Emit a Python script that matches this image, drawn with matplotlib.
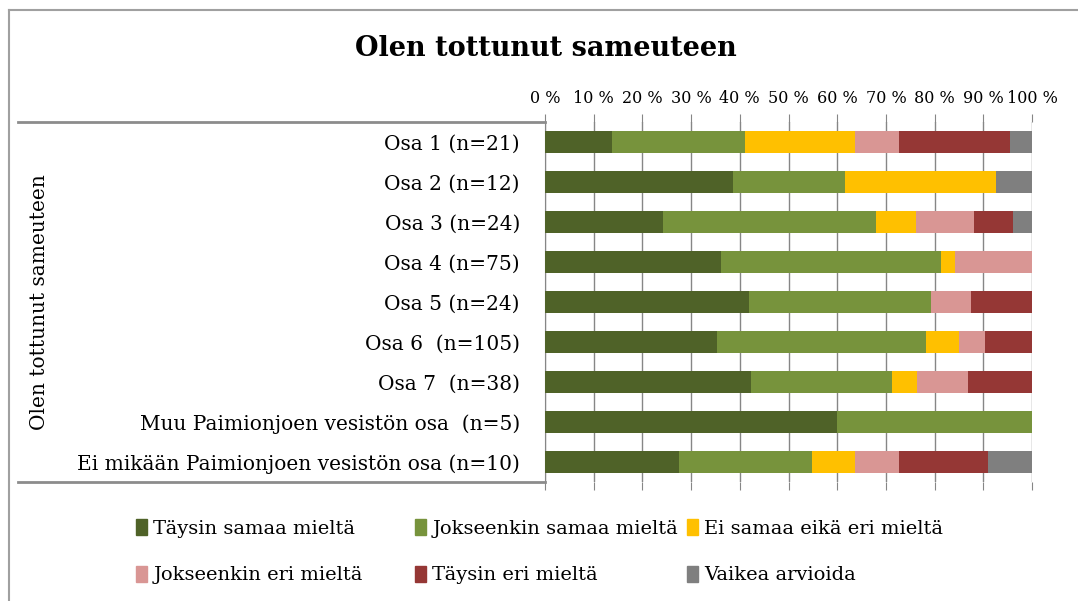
import matplotlib.pyplot as plt
from matplotlib.lines import Line2D
from matplotlib.patches import Patch

# Luokat (ylhäältä alas)
osat = ["Osa 1 (n=21)", "Osa 2 (n=12)", "Osa 3 (n=24)", "Osa 4 (n=75)",
        "Osa 5 (n=24)", "Osa 6  (n=105)", "Osa 7  (n=38)",
        "Muu Paimionjoen vesistön osa  (n=5)",
        "Ei mikään Paimionjoen vesistön osa (n=10)"]

vastaukset = ["Täysin samaa mieltä", "Jokseenkin samaa mieltä",
              "Ei samaa eikä eri mieltä", "Jokseenkin eri mieltä",
              "Täysin eri mieltä", "Vaikea arvioida"]

# Prosenttiosuudet (luettu kuvasta)
taysin_samaa = [13.7, 38.6, 24.2, 36.1, 41.9, 35.3, 42.2, 60.0, 27.5]
jokseenkin_samaa = [27.3, 23.0, 43.7, 45.3, 37.4, 42.9, 29.0, 40.0, 27.3]
ei_samaa_eika_eri = [22.7, 31.0, 8.3, 2.8, 0.0, 6.9, 5.2, 0.0, 8.9]
jokseenkin_eri = [9.0, 0.0, 11.8, 15.8, 8.2, 5.3, 10.4, 0.0, 9.0]
taysin_eri = [22.8, 0.0, 8.1, 0.0, 12.5, 9.6, 13.2, 0.0, 18.3]
vaikea = [4.5, 7.4, 3.9, 0.0, 0.0, 0.0, 0.0, 0.0, 9.0]

varit = ["#4F6228", "#77933C", "#FFC000", "#D99694", "#953735", "#7F7F7F"]

sarjat = [taysin_samaa, jokseenkin_samaa, ei_samaa_eika_eri,
          jokseenkin_eri, taysin_eri, vaikea]

plt.rcParams['font.family'] = ['DejaVu Serif']

fig = plt.figure(figsize=(10.78, 6.01), dpi=100)
ax = fig.add_axes([545 / 1078, 1 - 482 / 601, 487 / 1078, 360 / 601])

y = list(range(len(osat)))
vasen = [0.0] * len(osat)
for arvot, vari, nimi in zip(sarjat, varit, vastaukset):
    ax.barh(y, arvot, left=vasen, height=0.57, color=vari, label=nimi, zorder=3)
    vasen = [a + b for a, b in zip(vasen, arvot)]

ax.set_xlim(0, 100)
ax.set_ylim(len(osat) - 0.5, -0.5)
ax.set_xticks(range(0, 101, 10))
ax.set_xticklabels([f"{t} %" for t in range(0, 101, 10)], fontsize=11.5)
ax.xaxis.tick_top()
ax.tick_params(axis='x', which='both', top=True, bottom=True, length=6,
               color="#868686", pad=5)
ax.grid(axis='x', color="#868686", linewidth=1, zorder=0)

ax.set_yticks(y)
ax.set_yticklabels(osat, fontsize=14.5)
ax.tick_params(axis='y', length=0, pad=18)

for s in ["top", "bottom", "right"]:
    ax.spines[s].set_visible(False)
ax.spines["left"].set_color("#868686")

# Ryhmän viivat vasemmalla
for yy in [122, 482]:
    fig.add_artist(Line2D([18 / 1078, 545 / 1078], [1 - yy / 601, 1 - yy / 601],
                          color="#8C8C8C", linewidth=2))
fig.text(40 / 1078, 1 - 302 / 601, "Olen tottunut sameuteen", rotation=90,
         ha='center', va='center', fontsize=14.5)

# Kehys
fig.add_artist(Line2D([9 / 1078, 9 / 1078], [0, 1 - 10 / 601], color="#A0A0A0", linewidth=1.5))
fig.add_artist(Line2D([9 / 1078, 1], [1 - 10 / 601, 1 - 10 / 601], color="#A0A0A0", linewidth=1.5))

fig.text(546 / 1078, 1 - 48 / 601, "Olen tottunut sameuteen", ha='center',
         va='center', fontsize=19.5, fontweight='bold')

# Selite: kolme saraketta, rivit vaakasuunnassa
kahvat = [Patch(color=v) for v in varit]
sarakkeet_x = [126, 405, 677]
for k, sx in enumerate(sarakkeet_x):
    leg = fig.legend([kahvat[k], kahvat[k + 3]], [vastaukset[k], vastaukset[k + 3]],
                     loc='upper left', bbox_to_anchor=(sx / 1078, 1 - 509 / 601),
                     frameon=False, fontsize=14, handlelength=0.6, handleheight=0.9,
                     handletextpad=0.3, labelspacing=1.45, borderpad=0)

plt.savefig("out.png", dpi=100)
